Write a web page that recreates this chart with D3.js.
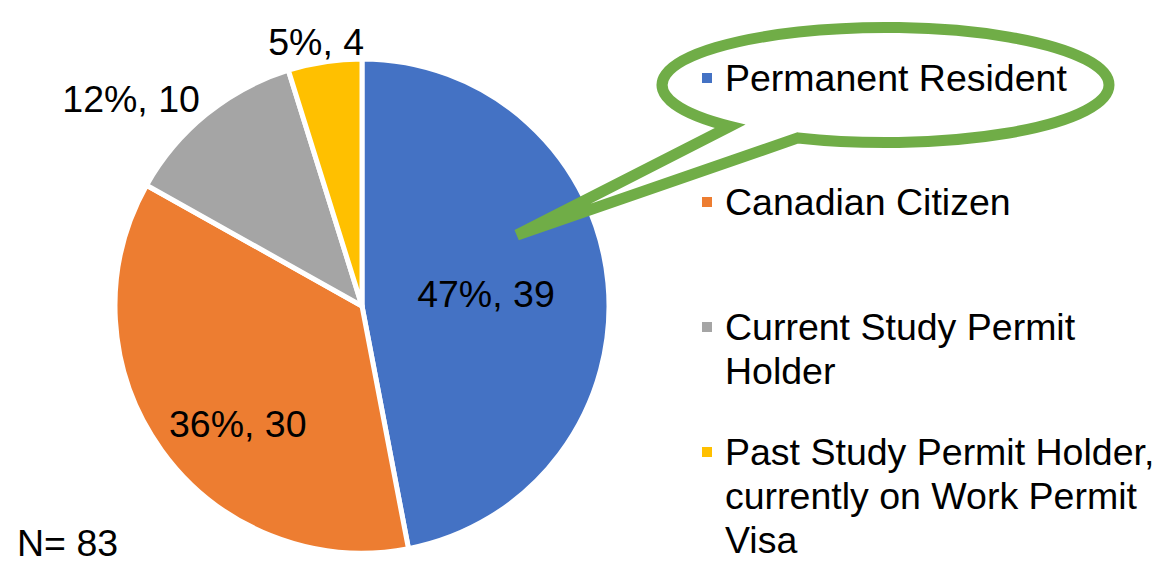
<!DOCTYPE html>
<html>
<head>
<meta charset="utf-8">
<script src="https://cdn.jsdelivr.net/npm/d3@7"></script>
<style>
  html, body { margin: 0; padding: 0; background: #fff; }
  svg { display: block; }
  text { font-family: "Liberation Sans", Arial, sans-serif; fill: #000; }
</style>
</head>
<body>
<svg id="chart" width="1166" height="565"></svg>
<script>
const categories = ["Permanent Resident", "Canadian Citizen", "Current Study Permit Holder", "Past Study Permit Holder, currently on Work Permit Visa"];
const counts = [39, 30, 10, 4];
const percents = ["47%", "36%", "12%", "5%"];
const colors = ["#4472C4", "#ED7D31", "#A5A5A5", "#FFC000"];
const legendLines = [["Permanent Resident"], ["Canadian Citizen"], ["Current Study Permit", "Holder"], ["Past Study Permit Holder,", "currently on Work Permit", "Visa"]];
const totalLabel = "N= 83";

const svg = d3.select("#chart");
const cx = 362, cy = 306, r = 247;
const fs = 37.5;

const pie = d3.pie().sort(null).value(d => d)(counts);
const arc = d3.arc().innerRadius(0).outerRadius(r);

const g = svg.append("g").attr("transform", `translate(${cx},${cy})`);
g.selectAll("path.slice").data(pie).join("path")
  .attr("class", "slice")
  .attr("d", arc)
  .attr("fill", (d, i) => colors[i])
  .attr("stroke", "#fff")
  .attr("stroke-width", 5)
  .attr("stroke-linejoin", "round");

// data labels: inner for large slices, outside for small
const labelPos = [
  d3.arc().innerRadius(r * 0.5).outerRadius(r * 0.5),
  d3.arc().innerRadius(r * 0.62).outerRadius(r * 0.62),
  d3.arc().innerRadius(r * 1.15).outerRadius(r * 1.15),
  d3.arc().innerRadius(r * 1.07).outerRadius(r * 1.07)
];
const labelOffset = [[1, 0], [0, 28], [-52, 14], [-6, -3]];
g.selectAll("text.lbl").data(pie).join("text")
  .attr("class", "lbl")
  .attr("x", (d, i) => labelPos[i].centroid(d)[0] + labelOffset[i][0])
  .attr("y", (d, i) => labelPos[i].centroid(d)[1] + labelOffset[i][1])
  .attr("text-anchor", "middle")
  .attr("dominant-baseline", "central")
  .attr("font-size", fs)
  .text((d, i) => `${percents[i]}, ${counts[i]}`);

// callout (speech bubble) around first legend entry
const ecx = 885.5, ecy = 85, erx = 223.5, ery = 57.5;
const tip = [517, 235];
function ellPt(x, below) {
  const t = (x - ecx) / erx;
  return [x, ecy + (below ? 1 : -1) * ery * Math.sqrt(1 - t * t)];
}
const A = ellPt(730, true), B = ellPt(798, true);
const bubble = `M${A[0]},${A[1]} L${tip[0]},${tip[1]} L${B[0]},${B[1]} A${erx},${ery} 0 1 0 ${A[0]},${A[1]} Z`;
svg.append("path")
  .attr("d", bubble)
  .attr("fill", "#fff")
  .attr("stroke", "#70AD47")
  .attr("stroke-width", 11)
  .attr("stroke-linejoin", "miter")
  .attr("stroke-miterlimit", 3);

// legend
const legendX = 725, markerX = 702;
const lineH = 44;
const firstBaselines = [91, 215, 340, 465];
const lg = svg.append("g");
categories.forEach((c, i) => {
  lg.append("rect")
    .attr("x", markerX).attr("y", firstBaselines[i] - 18)
    .attr("width", 10).attr("height", 10)
    .attr("fill", colors[i]);
  const t = lg.append("text").attr("font-size", fs);
  legendLines[i].forEach((ln, j) => {
    t.append("tspan").attr("x", legendX).attr("y", firstBaselines[i] + j * lineH).text(ln);
  });
});

svg.append("text")
  .attr("x", 17).attr("y", 556)
  .attr("font-size", fs)
  .text(totalLabel);
</script>
</body>
</html>
